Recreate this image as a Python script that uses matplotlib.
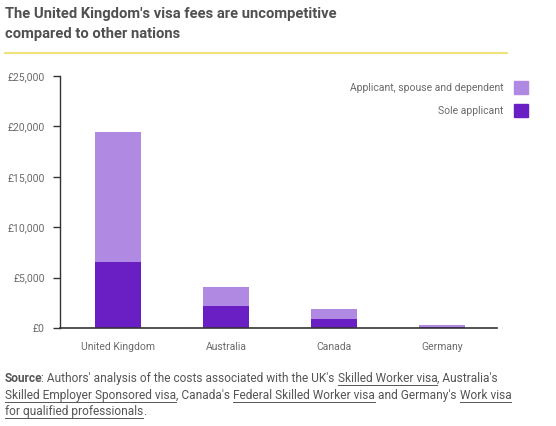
import numpy as np
import matplotlib.pyplot as plt
from matplotlib.patches import Patch
from matplotlib.lines import Line2D
from matplotlib.ticker import FuncFormatter

plt.rcParams['font.family'] = ['Roboto', 'DejaVu Sans']

# 데이터 (그림에서 읽은 값, 파운드)
countries = ['United Kingdom', 'Australia', 'Canada', 'Germany']
sole = np.array([6580, 2210, 890, 110])
family_total = np.array([19400, 4070, 1880, 300])
family_extra = family_total - sole

dark = '#6a1fc4'
light = '#b089e3'
grey = '#6b6b6b'

fig = plt.figure(figsize=(5.56, 4.26), dpi=100)
ax = fig.add_axes([60 / 556, 1 - 328 / 426, 437 / 556, 252 / 426])

x = np.arange(len(countries))
ax.bar(x, sole, 0.43, color=dark, label='Sole applicant')
ax.bar(x, family_extra, 0.43, bottom=sole, color=light, label='Applicant, spouse and dependent')

ax.set_xlim(-0.54, 3.51)
ax.set_ylim(0, 25000)
ax.set_yticks(np.arange(0, 25001, 5000))
ax.yaxis.set_major_formatter(FuncFormatter(lambda v, p: '£{:,.0f}'.format(v)))
ax.set_xticks(x)
ax.set_xticklabels(countries)

for s in ['top', 'right']:
    ax.spines[s].set_visible(False)
ax.spines['left'].set_color('#333333')
ax.spines['bottom'].set_color('#333333')
ax.spines['left'].set_linewidth(1.0)
ax.spines['bottom'].set_linewidth(1.2)
ax.tick_params(axis='y', length=5, width=1, color='#333333', labelcolor=grey, labelsize=7.5, pad=6)
ax.tick_params(axis='x', length=0, labelcolor=grey, labelsize=7.5, pad=10)

# 범례 (마커가 오른쪽)
handles = [Patch(color=light, label='Applicant, spouse and dependent'),
           Patch(color=dark, label='Sole applicant')]
leg = ax.legend(handles=handles, loc='upper right', bbox_to_anchor=(532 / 556, 1 - 77 / 426),
                bbox_transform=fig.transFigure, markerfirst=False, frameon=False,
                fontsize=7.5, handlelength=1.35, handleheight=1.5, handletextpad=1.0,
                labelspacing=1.0, borderaxespad=0)
for t in leg.get_texts():
    t.set_color(grey)

# 제목
fig.text(5 / 556, 1 - 7 / 426, "The United Kingdom's visa fees are uncompetitive\ncompared to other nations",
         ha='left', va='top', fontsize=10.6, fontweight='bold', color='#505050', linespacing=1.55)
fig.add_artist(Line2D([5 / 556, 507 / 556], [1 - 53 / 426, 1 - 53 / 426],
                      transform=fig.transFigure, color='#efe37a', lw=1.5))

# 출처 (밑줄 포함) - 조각을 이어 붙이기
src_size = 8.6
src_color = '#555555'
lines = [
    [('Source', 'bold', False), (": Authors' analysis of the costs associated with the UK's ", 'normal', False),
     ('Skilled Worker visa', 'normal', True), (", Australia's", 'normal', False)],
    [('Skilled Employer Sponsored visa', 'normal', True), (", Canada's ", 'normal', False),
     ('Federal Skilled Worker visa', 'normal', True), (" and Germany's ", 'normal', False),
     ('Work visa', 'normal', True)],
    [('for qualified professionals', 'normal', True), ('.', 'normal', False)],
]
base_y = [382, 399, 415]
fig.canvas.draw()
renderer = fig.canvas.get_renderer()
for parts, yb in zip(lines, base_y):
    xpos = 5.0
    for txt, wt, ul in parts:
        t = fig.text(xpos / 556, 1 - yb / 426, txt, ha='left', va='baseline', fontsize=src_size,
                     fontweight=wt, color=src_color)
        w, h, d = renderer.get_text_width_height_descent(txt, t.get_fontproperties(), ismath=False)
        if ul:
            fig.add_artist(Line2D([xpos / 556, (xpos + w) / 556], [1 - (yb + 2.5) / 426, 1 - (yb + 2.5) / 426],
                                  transform=fig.transFigure, color=src_color, lw=0.7))
        xpos += w
        if wt == 'bold':
            xpos -= 1.5  # 굵은 글씨 뒤 여백 보정

fig.savefig('out.png', dpi=100)
